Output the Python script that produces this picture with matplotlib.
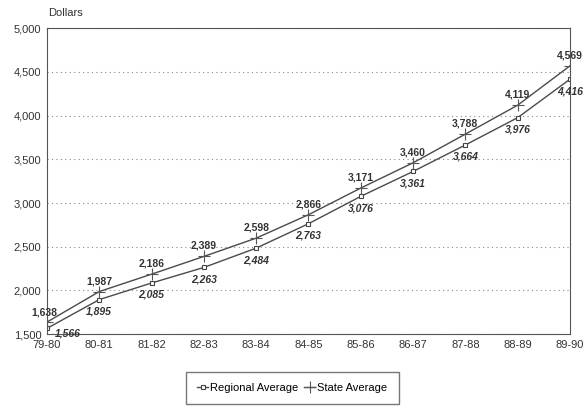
import matplotlib.pyplot as plt

years = ['79-80', '80-81', '81-82', '82-83', '83-84', '84-85',
         '85-86', '86-87', '87-88', '88-89', '89-90']
regional = [1566, 1895, 2085, 2263, 2484, 2763, 3076, 3361, 3664, 3976, 4416]
state = [1638, 1987, 2186, 2389, 2598, 2866, 3171, 3460, 3788, 4119, 4569]

plt.rcParams['font.family'] = ['Liberation Sans', 'DejaVu Sans']

fig = plt.figure(figsize=(5.87, 4.08), dpi=100)
ax = fig.add_axes([0.080, 0.181, 0.891, 0.750])
x = list(range(len(years)))

ax.plot(x, regional, color='#4a4a4a', lw=1, marker='s', ms=3.5,
        mfc='white', mec='#444444', mew=0.8, label='Regional Average')
ax.plot(x, state, color='#4a4a4a', lw=1, marker='+', ms=9,
        mec='#555555', mew=0.8, label='State Average')

# 数据标签
for i in range(len(x)):
    if i == 0:
        ax.annotate(f'{state[i]:,}', (x[i], state[i]), xytext=(-2, 7),
                    textcoords='offset points', ha='center', va='center',
                    fontsize=7.5, fontweight='bold', color='#333333')
        ax.annotate(f'{regional[i]:,}', (x[i], regional[i]), xytext=(15, -4),
                    textcoords='offset points', ha='center', va='center',
                    fontsize=7.5, fontweight='bold', style='italic', color='#333333')
    else:
        ax.annotate(f'{state[i]:,}', (x[i], state[i]), xytext=(0, 4),
                    textcoords='offset points', ha='center', va='bottom',
                    fontsize=7.5, fontweight='bold', color='#333333')
        ax.annotate(f'{regional[i]:,}', (x[i], regional[i]), xytext=(0, -5),
                    textcoords='offset points', ha='center', va='top',
                    fontsize=7.5, fontweight='bold', style='italic', color='#333333')

ax.set_xlim(0, len(years) - 1)
ax.set_ylim(1500, 5000)
ax.set_xticks(x)
ax.set_xticklabels(years)
ax.set_yticks(range(1500, 5001, 500))
ax.set_yticklabels([f'{v:,}' for v in range(1500, 5001, 500)])
ax.tick_params(length=0, labelsize=8, colors='#333333', pad=4)
ax.yaxis.grid(True, linestyle=(0, (1, 3)), color='#888888', lw=0.8)
for s in ax.spines.values():
    s.set_color('#555555')
    s.set_linewidth(0.8)

fig.text(0.082, 0.968, 'Dollars', fontsize=8, color='#333333', va='center')

fig.legend(loc='center', bbox_to_anchor=(0.498, 0.049), ncol=2,
           fontsize=8, frameon=True, fancybox=False, edgecolor='#555555',
           handlelength=1.0, handletextpad=0.2, columnspacing=0.5,
           borderpad=1.0, markerscale=0.9)

plt.savefig('out.png', dpi=100)
